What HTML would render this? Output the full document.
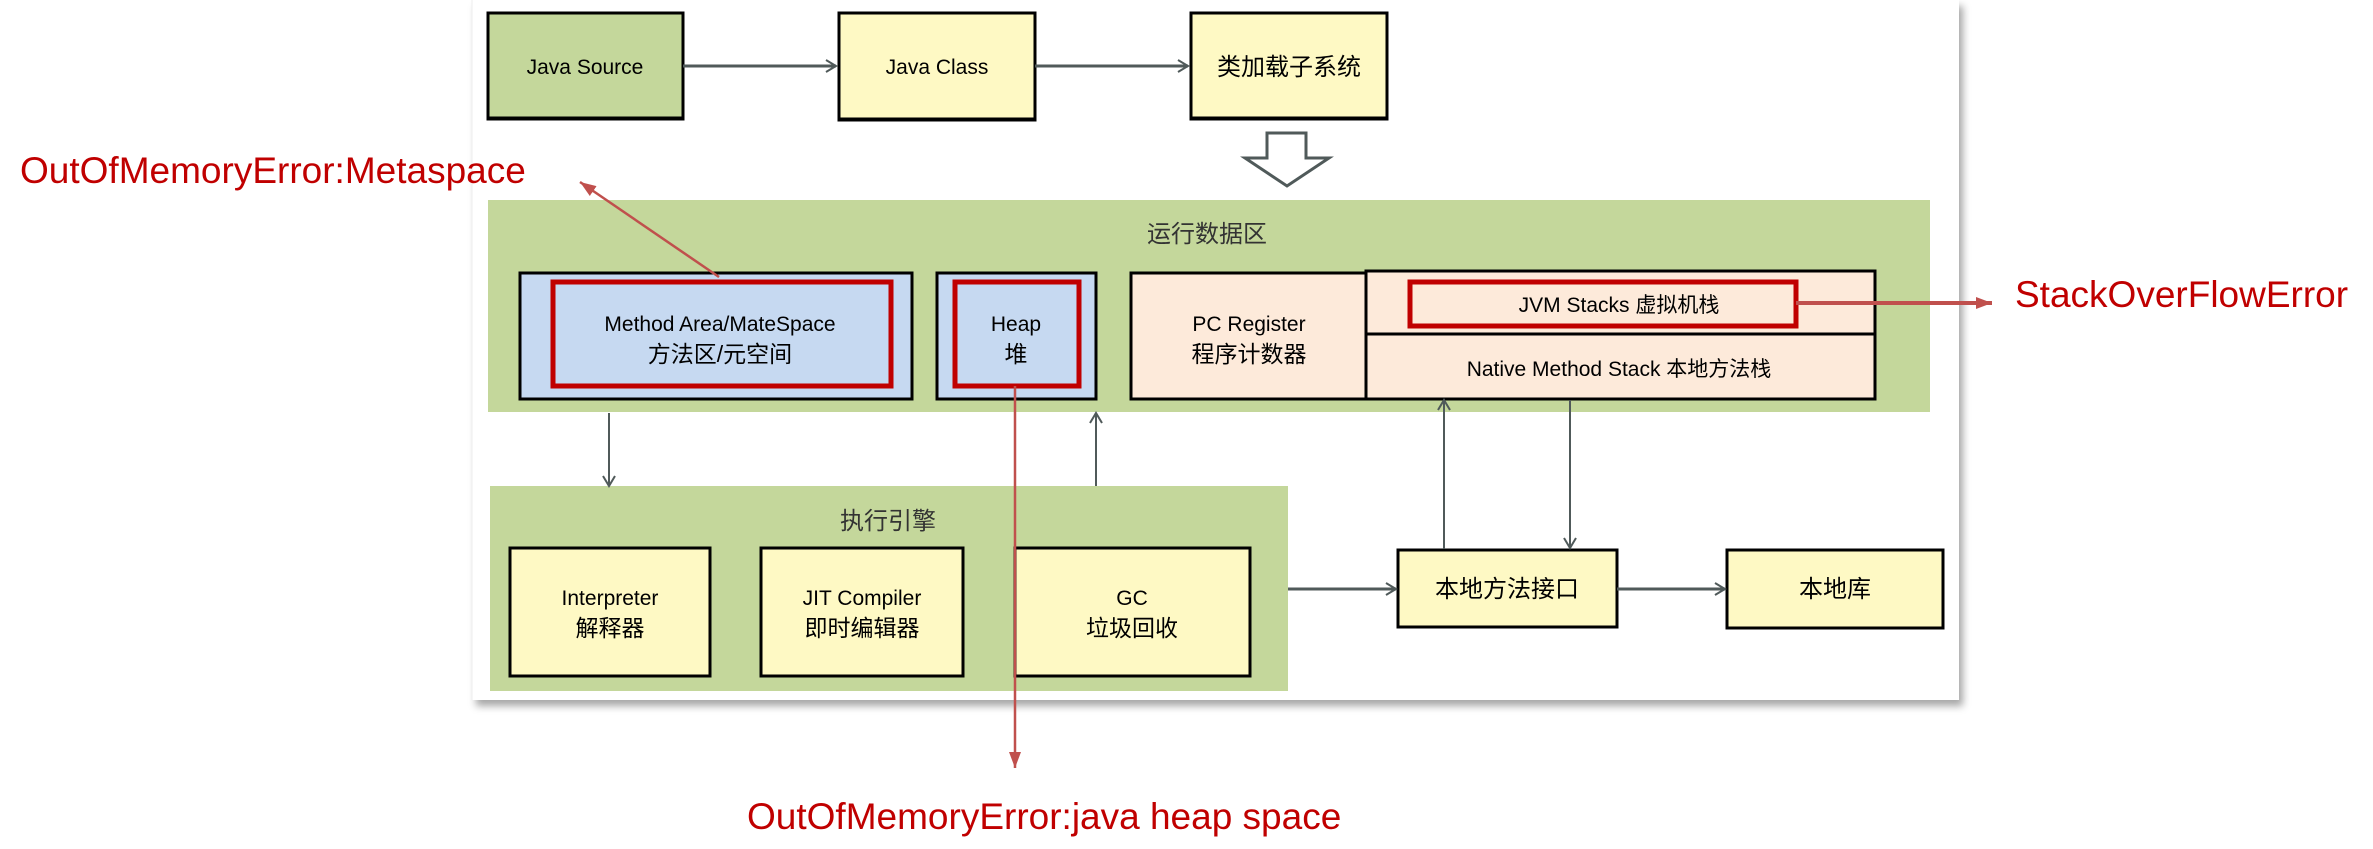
<!DOCTYPE html>
<html><head><meta charset="utf-8"><style>
html,body{margin:0;padding:0;background:#fff;}
svg{display:block;}
text{font-family:"Liberation Sans","Noto Sans CJK SC",sans-serif;}
</style></head><body>
<svg width="2373" height="849" viewBox="0 0 2373 849" xmlns="http://www.w3.org/2000/svg">
<defs>
<filter id="sh" x="-5%" y="-5%" width="110%" height="115%"><feDropShadow dx="4" dy="6" stdDeviation="4" flood-color="#000" flood-opacity="0.35"/></filter>
<marker id="ga" markerWidth="14" markerHeight="14" refX="12" refY="7" orient="auto" markerUnits="userSpaceOnUse"><path d="M2,1 L12,7 L2,13" fill="none" stroke="#505a5a" stroke-width="2"/></marker>
<marker id="ra" markerWidth="18" markerHeight="18" refX="16" refY="9" orient="auto" markerUnits="userSpaceOnUse"><path d="M0,3 L16,9 L0,15 z" fill="#c0504d"/></marker>
</defs>
<!-- panel -->
<rect x="472" y="0" width="1487" height="700" fill="#fff" filter="url(#sh)"/>
<line x1="472" y1="0" x2="472" y2="700" stroke="#eee" stroke-width="1"/>

<!-- top boxes -->
<g stroke="#000" stroke-width="3">
<rect x="488" y="13" width="195" height="106" fill="#c4d79b"/>
<rect x="839" y="13" width="196" height="107" fill="#fef9c4"/>
<rect x="1191" y="13" width="196" height="106" fill="#fef9c4"/>
</g>
<g stroke="#000" stroke-width="3">
<line x1="488" y1="13" x2="683" y2="13"/><line x1="488" y1="118" x2="683" y2="118"/>
<line x1="839" y1="13" x2="1035" y2="13"/><line x1="839" y1="119" x2="1035" y2="119"/>
<line x1="1191" y1="13" x2="1387" y2="13"/><line x1="1191" y1="118" x2="1387" y2="118"/>
</g>
<g font-size="21" text-anchor="middle" fill="#000">
<text x="585" y="74">Java Source</text>
<text x="937" y="74">Java Class</text>
<text x="1289" y="75" font-size="24">类加载子系统</text>
</g>
<g stroke="#505a5a" stroke-width="3" marker-end="url(#ga)">
<line x1="683" y1="66" x2="836" y2="66"/>
<line x1="1035" y1="66" x2="1188" y2="66"/>
</g>
<!-- hollow down arrow -->
<path d="M1267,133 L1306,133 L1306,158 L1329,158 L1287,186 L1245,158 L1267,158 Z" fill="#fff" stroke="#505a5a" stroke-width="3"/>

<!-- runtime data area -->
<rect x="488" y="200" width="1442" height="212" fill="#c4d79b"/>
<text x="1207" y="242" font-size="24" text-anchor="middle" fill="#333">运行数据区</text>
<g stroke="#000" stroke-width="3">
<rect x="520" y="273" width="392" height="126" fill="#c6d9f1"/>
<rect x="937" y="273" width="159" height="126" fill="#c6d9f1"/>
<rect x="1131" y="273" width="235" height="126" fill="#fdeada"/>
<rect x="1366" y="271" width="509" height="128" fill="#fdeada"/>
<line x1="1366" y1="334" x2="1875" y2="334"/>
</g>
<g stroke="#c00000" stroke-width="5" fill="none">
<rect x="553" y="282" width="338" height="104"/>
<rect x="955" y="282" width="124" height="104"/>
<rect x="1410" y="282" width="386" height="44"/>
</g>
<g font-size="21" text-anchor="middle" fill="#000">
<text x="720" y="331">Method Area/MateSpace</text>
<text x="720" y="362" font-size="23">方法区/元空间</text>
<text x="1016" y="331">Heap</text>
<text x="1016" y="362" font-size="23">堆</text>
<text x="1249" y="331">PC Register</text>
<text x="1249" y="362" font-size="23">程序计数器</text>
<text x="1619" y="312">JVM Stacks 虚拟机栈</text>
<text x="1619" y="376">Native Method Stack 本地方法栈</text>
</g>

<!-- execution engine -->
<rect x="490" y="486" width="798" height="205" fill="#c4d79b"/>
<text x="888" y="529" font-size="24" text-anchor="middle" fill="#333">执行引擎</text>
<g stroke="#000" stroke-width="3" fill="#fef9c4">
<rect x="510" y="548" width="200" height="128"/>
<rect x="761" y="548" width="202" height="128"/>
<rect x="1015" y="548" width="235" height="128"/>
<rect x="1398" y="550" width="219" height="77"/>
<rect x="1727" y="550" width="216" height="78"/>
</g>
<g font-size="21" text-anchor="middle" fill="#000">
<text x="610" y="605">Interpreter</text>
<text x="610" y="636" font-size="23">解释器</text>
<text x="862" y="605">JIT Compiler</text>
<text x="862" y="636" font-size="23">即时编辑器</text>
<text x="1132" y="605">GC</text>
<text x="1132" y="636" font-size="23">垃圾回收</text>
<text x="1507" y="597" font-size="24">本地方法接口</text>
<text x="1835" y="597" font-size="24">本地库</text>
</g>

<!-- gray connectors -->
<g stroke="#505a5a" stroke-width="2" marker-end="url(#ga)">
<line x1="609" y1="413" x2="609" y2="486"/>
<line x1="1096" y1="486" x2="1096" y2="413"/>
<line x1="1444" y1="549" x2="1444" y2="400"/>
<line x1="1570" y1="400" x2="1570" y2="548"/>
</g>
<g stroke="#505a5a" stroke-width="3" marker-end="url(#ga)">
<line x1="1288" y1="589" x2="1396" y2="589"/>
<line x1="1617" y1="589" x2="1725" y2="589"/>
</g>

<!-- red error connectors -->
<g stroke="#c0504d" stroke-width="2.5" marker-end="url(#ra)">
<line x1="719" y1="277" x2="580" y2="182"/>
<line x1="1015" y1="386" x2="1015" y2="768"/>
</g>
<line x1="1796" y1="303" x2="1992" y2="303" stroke="#c0504d" stroke-width="4" marker-end="url(#ra)"/>
<g font-size="37" fill="#c00000">
<text x="20" y="183">OutOfMemoryError:Metaspace</text>
<text x="2015" y="307">StackOverFlowError</text>
<text x="747" y="829">OutOfMemoryError:java heap space</text>
</g>
</svg>
</body></html>
